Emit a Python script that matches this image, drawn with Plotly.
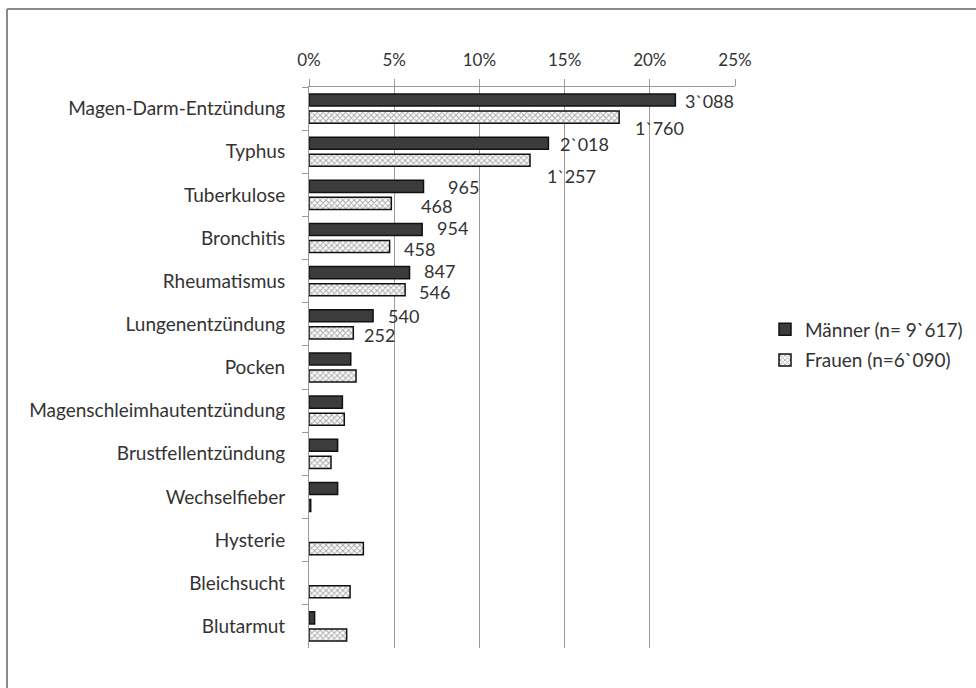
import plotly.graph_objects as go

categories = ["Magen-Darm-Entzündung", "Typhus", "Tuberkulose", "Bronchitis",
              "Rheumatismus", "Lungenentzündung", "Pocken", "Magenschleimhautentzündung",
              "Brustfellentzündung", "Wechselfieber", "Hysterie", "Bleichsucht", "Blutarmut"]
men_pct = [21.5, 14.05, 6.72, 6.64, 5.90, 3.76, 2.45, 1.96, 1.68, 1.68, None, None, 0.33]
women_pct = [18.2, 12.97, 4.83, 4.73, 5.64, 2.60, 2.76, 2.07, 1.29, 0.10, 3.19, 2.41, 2.21]
men_labels = ["3`088", "2`018", "965", "954", "847", "540", "", "", "", "", "", "", ""]
women_labels = ["1`760", "1`257", "468", "458", "546", "252", "", "", "", "", "", "", ""]
men_name = "Männer (n= 9`617)"
women_name = "Frauen (n=6`090)"
tick_vals = [0, 5, 10, 15, 20, 25]
tick_text = ["0%", "5%", "10%", "15%", "20%", "25%"]

FONT = "Lato"
TXT = "#333333"

fig = go.Figure()
fig.add_trace(go.Bar(
    y=categories, x=men_pct, orientation="h", name=men_name, legendgroup="m",
    marker=dict(color="#3c3c3c", line=dict(color="#111111", width=1.5)),
))
fig.add_trace(go.Bar(
    y=categories, x=women_pct, orientation="h", name=women_name, legendgroup="f",
    marker=dict(color="white", line=dict(color="#111111", width=1.5),
                pattern=dict(shape="x", fgcolor="#555555", bgcolor="white",
                             size=4, solidity=0.45)),
))

# label offsets (pixels) for the data labels, per category index
men_shift = {0: (8, 0), 1: (10, 0), 2: (22, 0), 3: (13, 2), 4: (12, 2), 5: (13, 0)}
women_shift = {0: (14, -10), 1: (15, -15), 2: (28, -2), 3: (12, -2), 4: (12, -2), 5: (9, -2)}

annotations = []
for i, cat in enumerate(categories):
    if men_labels[i]:
        dx, dy = men_shift.get(i, (10, 0))
        annotations.append(dict(x=men_pct[i], y=cat, xref="x", yref="y",
                                text=men_labels[i], showarrow=False, xanchor="left",
                                yanchor="middle", xshift=dx, yshift=dy + 8,
                                font=dict(family=FONT, size=18, color=TXT)))
    if women_labels[i]:
        dx, dy = women_shift.get(i, (10, 0))
        annotations.append(dict(x=women_pct[i], y=cat, xref="x", yref="y",
                                text=women_labels[i], showarrow=False, xanchor="left",
                                yanchor="middle", xshift=dx, yshift=dy - 9,
                                font=dict(family=FONT, size=18, color=TXT)))

L, R, T, B = 309, 241, 87, 40
W, H = 976, 688
pw, ph = W - L - R, H - T - B
def px_x(p):
    return (p - L) / pw
def px_y(p):
    return (H - B - p) / ph

shapes = [
    dict(type="line", xref="paper", yref="paper", x0=px_x(7), x1=px_x(980), y0=px_y(9), y1=px_y(9),
         line=dict(color="#8a8a8a", width=2)),
    dict(type="line", xref="paper", yref="paper", x0=px_x(7), x1=px_x(7), y0=px_y(9), y1=px_y(692),
         line=dict(color="#8a8a8a", width=2)),
]

n = len(categories)
fig.update_layout(
    width=W, height=H,
    margin=dict(l=L, r=R, t=T, b=B, pad=0, autoexpand=False),
    paper_bgcolor="white", plot_bgcolor="white",
    barmode="group", bargap=0.21, bargroupgap=0.29,
    font=dict(family=FONT, size=17, color=TXT),
    showlegend=True,
    legend=dict(x=px_x(765), y=px_y(345), xanchor="left", yanchor="middle",
                font=dict(family=FONT, size=19, color=TXT), tracegroupgap=3,
                itemwidth=30, bgcolor="rgba(0,0,0,0)"),
    xaxis=dict(side="top", range=[0, 25], tickvals=tick_vals, ticktext=tick_text,
               automargin=False,
               showgrid=True, gridcolor="#9a9a9a", gridwidth=1,
               showline=True, linecolor="#9a9a9a", linewidth=1,
               ticks="outside", ticklen=7, tickcolor="#9a9a9a",
               ticklabelstandoff=6, zeroline=False,
               tickfont=dict(family=FONT, size=17, color=TXT)),
    yaxis=dict(range=[n - 0.5, -0.5], autorange=False, automargin=False,
               showline=True, linecolor="#9a9a9a", linewidth=1,
               ticks="outside", tickson="boundaries", ticklen=6, tickcolor="#9a9a9a",
               ticklabelstandoff=19, showgrid=False,
               tickfont=dict(family=FONT, size=19, color=TXT)),
    annotations=annotations,
    shapes=shapes,
)

fig.write_html("out.html")
